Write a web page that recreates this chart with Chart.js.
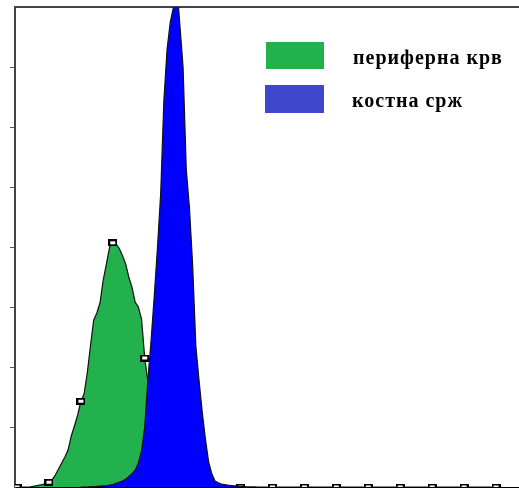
<!DOCTYPE html>
<html>
<head>
<meta charset="utf-8">
<script src="https://cdn.jsdelivr.net/npm/chart.js@4"></script>
<style>
  html, body { margin: 0; padding: 0; background: #fff; }
  #wrap { position: relative; width: 519px; height: 488px; }
  #legend .box { position: absolute; }
  #legend .txt { position: absolute; font-family: "Liberation Serif", "Times New Roman", serif; font-weight: bold; font-size: 20px; letter-spacing: 1px; color: #000; white-space: nowrap; }
</style>
</head>
<body>
<div id="wrap">
  <canvas id="chart" width="519" height="488"></canvas>
  <div id="legend"></div>
</div>
<script>
// series names (legend)
var seriesNames = ["периферна крв", "костна срж"];
var legendColors = ["#22b14c", "#3f48cc"];

// peripheral blood, channels 0..150
var greenValues = [
  0, 0, 0, 0, 0, 0.01, 0.02, 0.03, 0.04, 0.06,
  0.08, 0.12, 0.2, 0.3, 0.4, 0.5, 0.62, 0.85, 1.02, 1.2,
  1.43, 1.55, 1.9, 2.35, 2.78, 2.9, 3.07, 3.45, 3.72, 4.0,
  4.07, 4.05, 3.98, 3.86, 3.72, 3.5, 3.33, 3.08, 3.0, 2.8,
  2.15, 1.75, 1.45, 1.2, 0.95, 0.75, 0.55, 0.4, 0.3, 0.22,
  0.15, 0.1, 0.08, 0.06, 0.05, 0.04, 0.03, 0.02, 0.02, 0.01,
  0.01, 0, 0, 0, 0, 0, 0, 0, 0, 0,
  0, 0, 0, 0, 0, 0, 0, 0, 0, 0,
  0, 0, 0, 0, 0, 0, 0, 0, 0, 0,
  0, 0, 0, 0, 0, 0, 0, 0, 0, 0,
  0, 0, 0, 0, 0, 0, 0, 0, 0, 0,
  0, 0, 0, 0, 0, 0, 0, 0, 0, 0,
  0, 0, 0, 0, 0, 0, 0, 0, 0, 0,
  0, 0, 0, 0, 0, 0, 0, 0, 0, 0,
  0, 0, 0, 0, 0, 0, 0, 0, 0, 0,
  0
];

// bone marrow, channels 20..75
var blueStart = 20;
var blueValues = [
  0, 0, 0, 0.005, 0.008, 0.01, 0.015, 0.02, 0.02, 0.03,
  0.04, 0.06, 0.08, 0.1, 0.13, 0.17, 0.22, 0.28, 0.4, 0.6,
  1.0, 1.8, 2.45, 3.2, 4.0, 4.9, 6.45, 7.3, 7.75, 8.0,
  8.4, 7.7, 7.0, 5.3, 4.65, 3.7, 2.35, 1.78, 1.25, 0.8,
  0.42, 0.22, 0.1, 0.07, 0.05, 0.04, 0.03, 0.025, 0.02, 0.015,
  0.01, 0.005, 0, 0, 0, 0
];

var yTicks = [0, 1, 2, 3, 4, 5, 6, 7, 8];

var greenData = greenValues.map(function(v, i){ return { x: i, y: v }; });
var blueData = blueValues.map(function(v, i){ return { x: blueStart + i, y: v }; });

// small flat rectangle marker
var marker = document.createElement("canvas");
marker.width = 9;
marker.height = 7;
var mctx = marker.getContext("2d");
mctx.fillStyle = "#000";
mctx.fillRect(0, 0, 9, 7);
mctx.fillStyle = "#fff";
mctx.fillRect(2, 2, 5, 3);

var ctx = document.getElementById("chart").getContext("2d");
var chart = new Chart(ctx, {
  type: "line",
  data: {
    datasets: [
      {
        label: seriesNames[0],
        data: greenData,
        order: 1,
        fill: "origin",
        backgroundColor: "#22b14c",
        borderColor: "#111",
        borderWidth: 1.2,
        tension: 0,
        pointStyle: function(c){ return c.dataIndex % 10 === 0 ? marker : false; },
        pointRadius: function(c){ return c.dataIndex % 10 === 0 ? 4 : 0; }
      },
      {
        label: seriesNames[1],
        data: blueData,
        order: 0,
        fill: "origin",
        backgroundColor: "#0000ff",
        borderColor: "#111",
        borderWidth: 1.2,
        tension: 0,
        pointRadius: 0
      }
    ]
  },
  options: {
    responsive: false,
    animation: false,
    layout: { autoPadding: false, padding: { left: 10, top: 7, right: 0, bottom: 1 } },
    plugins: { legend: { display: false }, tooltip: { enabled: false } },
    scales: {
      x: {
        type: "linear",
        min: -0.63,
        max: 157.2,
        grid: { display: false, drawTicks: false },
        ticks: { display: false },
        border: { display: true, color: "#000", width: 1 }
      },
      x2: {
        type: "linear",
        position: "top",
        min: 0,
        max: 1,
        grid: { display: false, drawTicks: false },
        ticks: { display: false },
        border: { display: true, color: "#444", width: 2 }
      },
      y: {
        min: yTicks[0],
        max: yTicks[yTicks.length - 1],
        afterBuildTicks: function(s){ s.ticks = yTicks.map(function(v){ return { value: v }; }); },
        grid: {
          drawOnChartArea: false,
          drawTicks: true,
          tickLength: 5,
          color: function(c){ return (c.tick && (c.tick.value === 0 || c.tick.value === 8)) ? "rgba(0,0,0,0)" : "#555"; }
        },
        ticks: { display: false },
        border: { display: true, color: "#444", width: 2 }
      }
    }
  }
});

// legend as html text
var legendPos = [
  { bx: 266, by: 42, bw: 58, bh: 27, tx: 353, ty: 46 },
  { bx: 265, by: 85, bw: 59, bh: 28, tx: 352, ty: 89 }
];
var legend = document.getElementById("legend");
seriesNames.forEach(function(name, i){
  var p = legendPos[i];
  var box = document.createElement("div");
  box.className = "box";
  box.style.cssText = "left:" + p.bx + "px;top:" + p.by + "px;width:" + p.bw + "px;height:" + p.bh + "px;background:" + legendColors[i];
  var txt = document.createElement("div");
  txt.className = "txt";
  txt.style.left = p.tx + "px";
  txt.style.top = p.ty + "px";
  txt.textContent = name;
  legend.appendChild(box);
  legend.appendChild(txt);
});
</script>
</body>
</html>
